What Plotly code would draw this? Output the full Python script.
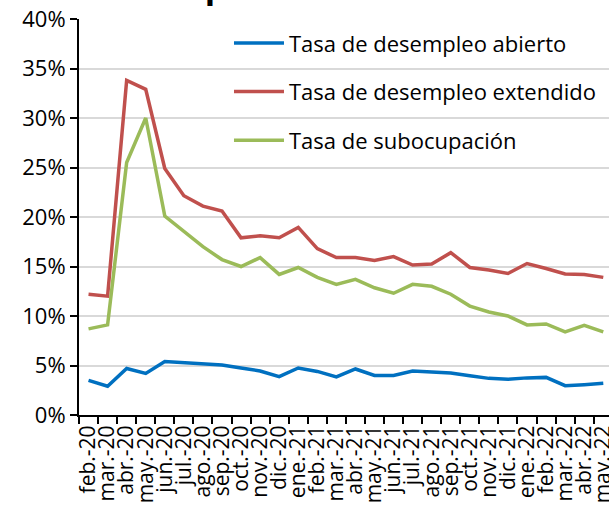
import plotly.graph_objects as go

months = ["feb.-20", "mar.-20", "abr.-20", "may.-20", "jun.-20", "jul.-20", "ago.-20",
          "sep.-20", "oct.-20", "nov.-20", "dic.-20", "ene.-21", "feb.-21", "mar.-21",
          "abr.-21", "may.-21", "jun.-21", "jul.-21", "ago.-21", "sep.-21", "oct.-21",
          "nov.-21", "dic.-21", "ene.-22", "feb.-22", "mar.-22", "abr.-22", "may.-22"]

abierto = [3.5, 2.9, 4.7, 4.2, 5.4, 5.3, 5.15, 5.05, 4.75, 4.45, 3.87, 4.75, 4.4, 3.85,
           4.65, 4.0, 4.0, 4.45, 4.35, 4.25, 3.97, 3.7, 3.6, 3.75, 3.8, 2.96, 3.06, 3.2]

extendido = [12.2, 12.0, 33.8, 32.9, 24.9, 22.15, 21.1, 20.6, 17.9, 18.1, 17.9, 18.95, 16.8, 15.9,
             15.9, 15.6, 16.0, 15.15, 15.25, 16.4, 14.9, 14.65, 14.3, 15.3, 14.8, 14.25, 14.2, 13.9]

subocupacion = [8.7, 9.1, 25.5, 30.0, 20.1, 18.5, 17.0, 15.7, 15.0, 15.9, 14.2, 14.9, 13.9, 13.2,
                13.7, 12.85, 12.3, 13.2, 13.0, 12.2, 11.0, 10.4, 10.0, 9.1, 9.2, 8.4, 9.05, 8.4]

series = [
    ("Tasa de desempleo abierto", abierto, "#0070C0"),
    ("Tasa de desempleo extendido", extendido, "#C0504D"),
    ("Tasa de subocupación", subocupacion, "#9BBB59"),
]

fig = go.Figure()
for i, (name, vals, color) in enumerate(series):
    fig.add_trace(go.Scatter(x=months, y=vals, name=name, mode="lines",
                             legendgroup=f"g{i}",
                             line=dict(color=color, width=3.5)))

FONT = "Open Sans"

fig.update_layout(
    width=609, height=513,
    margin=dict(l=79, r=0, t=19, b=98),
    plot_bgcolor="white", paper_bgcolor="white",
    font=dict(family=FONT, size=21, color="#000000"),
    showlegend=True,
    legend=dict(x=0.283, y=0.992, xanchor="left", yanchor="top",
                bgcolor="rgba(0,0,0,0)", font=dict(size=22, family=FONT),
                tracegroupgap=17, traceorder="grouped", itemwidth=50),
    annotations=[dict(text="<b>Desempleo</b>", xref="paper", yref="paper",
                      x=0.0, y=1.0, xanchor="left", yanchor="bottom",
                      yshift=9, xshift=8, showarrow=False,
                      font=dict(size=34, family=FONT))],
)

fig.update_xaxes(
    type="category", range=[-0.5, 27.3], dtick=1, automargin=False,
    tickangle=-90, tickfont=dict(size=21, family=FONT),
    showline=True, linecolor="black", linewidth=2,
    ticks="outside", ticklen=7, tickwidth=2, tickcolor="black",
    tickson="boundaries", showgrid=False, zeroline=False,
)
fig.update_yaxes(
    range=[0, 40], dtick=5, ticksuffix="%", automargin=False,
    tickfont=dict(size=22, family=FONT),
    showline=True, linecolor="black", linewidth=2,
    ticks="outside", ticklen=7, tickwidth=2, tickcolor="black",
    showgrid=True, gridcolor="#D9D9D9", gridwidth=1.5, zeroline=False,
)

fig.write_html("out.html", config={"displayModeBar": False},
               post_script="document.body.style.margin='0';")
